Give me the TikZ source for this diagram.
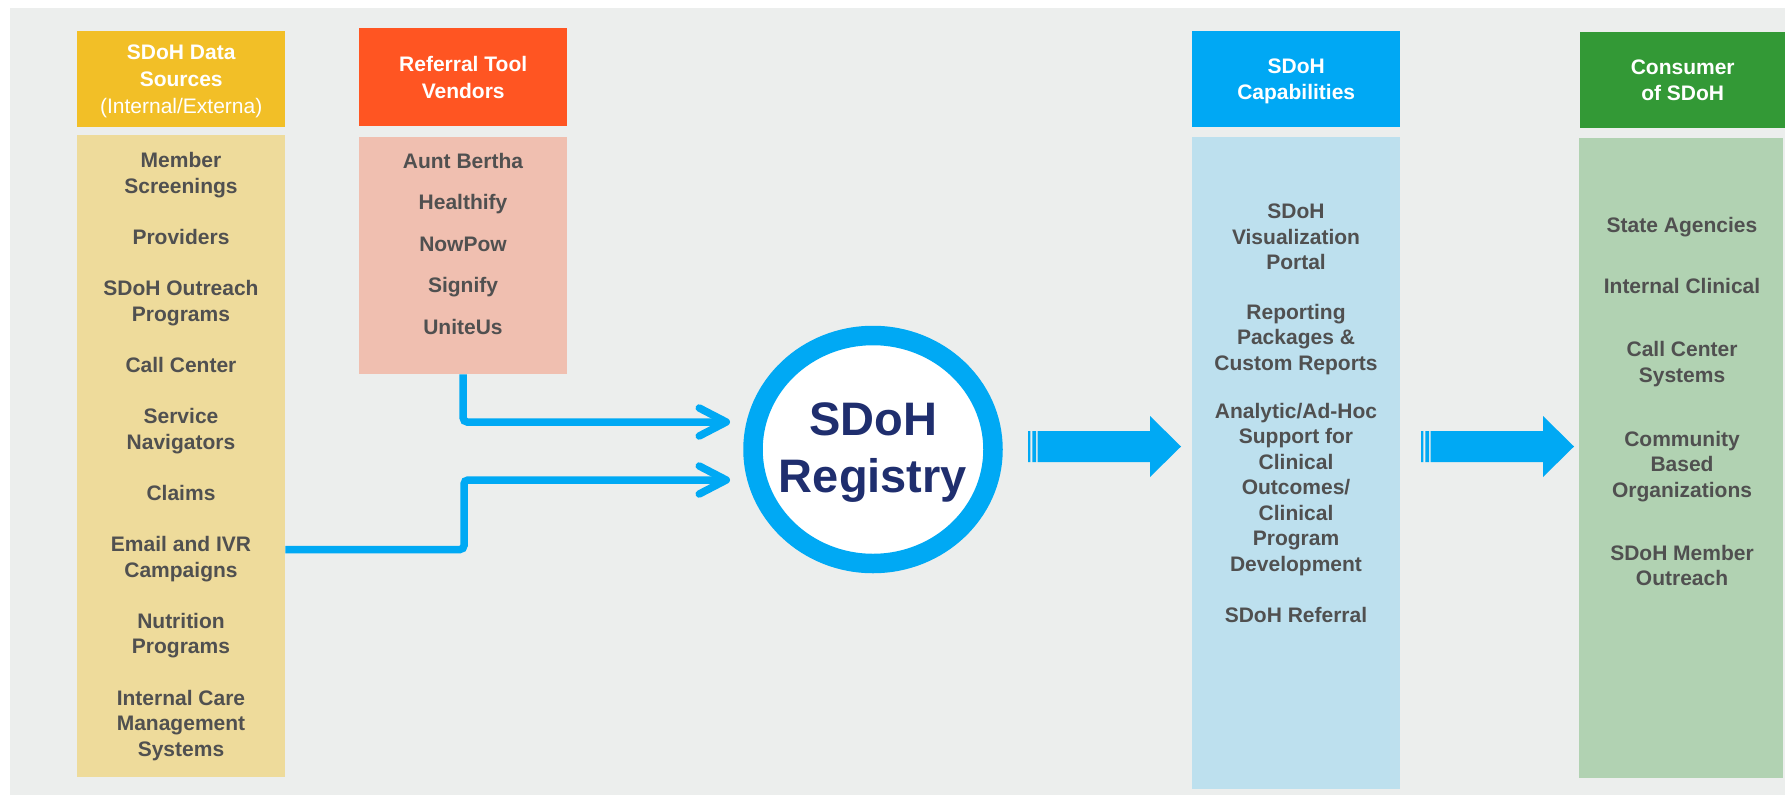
\documentclass[tikz,border=0pt]{standalone}
\usepackage{fontspec}
\setmainfont{Liberation Sans}
\usepackage{tikz}
\usetikzlibrary{positioning,calc,arrows.meta,shapes.geometric}
\definecolor{bggray}{RGB}{236,238,237}
\definecolor{srchd}{RGB}{242,191,39}
\definecolor{srcbd}{RGB}{238,219,155}
\definecolor{vendhd}{RGB}{255,85,34}
\definecolor{vendbd}{RGB}{240,191,176}
\definecolor{caphd}{RGB}{0,168,244}
\definecolor{capbd}{RGB}{189,224,238}
\definecolor{conhd}{RGB}{51,153,54}
\definecolor{conbd}{RGB}{177,210,178}
\definecolor{flowblue}{RGB}{0,169,244}
\definecolor{regnavy}{RGB}{31,46,110}
\definecolor{txtgray}{RGB}{80,80,80}

\begin{document}
\begin{tikzpicture}[
      x=1pt, y=-1pt,
      box/.style={anchor=north west, inner sep=0pt, minimum width=208pt},
      hdr/.style={box, minimum height=96pt, text=white, align=center, text depth=-1pt,
                  font=\fontsize{21}{26.8}\selectfont\bfseries},
      item/.style={anchor=north, inner sep=0pt, text=txtgray, align=center,
                   font=\fontsize{21}{25.6}\selectfont\bfseries},
      ring/.style={ellipse, draw=flowblue, line width=19.5pt, fill=white,
                   minimum width=240pt, minimum height=228pt, inner sep=0pt},
      regtxt/.style={inner sep=0pt, text=regnavy, align=center,
                     font=\fontsize{47}{57}\selectfont\bfseries},
      flow/.style={draw=flowblue, line width=7.5pt, rounded corners=4pt,
                   -{Straight Barb[length=27pt, width=28pt, round]}}
    ]
    % ---- page: 1785 x 795, one unit = one pixel of the reference ----
    \useasboundingbox (0,0) rectangle (1785,795);
    \fill[white] (0,0) rectangle (1785,795);
    \fill[bggray] (10,8) rectangle (1785,795);

    % ---- column heads ----
    \node[hdr, fill=srchd] (srchead) at (77,31) {SDoH Data\\Sources\\{\mdseries(Internal/Externa)}};
    \node[hdr, fill=vendhd, minimum height=98pt] (vendhead) at (359,28) {Referral Tool\\Vendors};
    \node[hdr, fill=caphd] (caphead) at (1192,31) {SDoH\\Capabilities};
    \node[hdr, fill=conhd, minimum width=205pt] (conhead) at (1580,32) {Consumer\\of SDoH};

    % ---- column bodies ----
    \node[box, fill=srcbd, minimum height=642pt] (srcbody) at (77,135) {};
    \node[box, fill=vendbd, minimum height=237pt] (vendbody) at (359,137) {};
    \node[box, fill=capbd, minimum height=652pt] (capbody) at (1192,137) {};
    \node[box, fill=conbd, minimum width=204pt, minimum height=640pt] (conbody) at (1579,138) {};

    % ---- lists ----
    \node[item] (srclist) at (181,152) {Member\\Screenings\\[25.6pt]Providers\\[25.6pt]SDoH Outreach\\Programs\\[25.6pt]Call Center\\[25.6pt]Service\\Navigators\\[25.6pt]Claims\\[25.6pt]Email and IVR\\Campaigns\\[25.6pt]Nutrition\\Programs\\[25.6pt]Internal Care\\Management\\Systems};
    \node[item] (vendlist) at (463,153) {Aunt Bertha\\[15.9pt]Healthify\\[15.9pt]NowPow\\[15.9pt]Signify\\[15.9pt]UniteUs};
    \node[item, font=\fontsize{21}{25.5}\selectfont\bfseries] (caplist) at (1296,204)
      {SDoH\\Visualization\\Portal\\[24pt]Reporting\\Packages \&\\Custom Reports\\[22.5pt]Analytic/Ad-Hoc\\Support for\\Clinical\\Outcomes/\\Clinical\\Program\\Development\\[25.5pt]SDoH Referral};
    \node[item] (conlist) at (1682,217) {State Agencies\\[35pt]Internal Clinical\\[38pt]Call Center\\Systems\\[38.5pt]Community\\Based\\Organizations\\[37pt]SDoH Member\\Outreach};

    % ---- registry ----
    \node[ring] (reg) at (873,449.5) {};
    \node[regtxt] (regname) at ([yshift=-3pt]reg.center) {SDoH\\Registry};

    % ---- feeds into the registry ----
    \coordinate (in1) at (730,422);
    \coordinate (in2) at (730,480);
    \draw[flow] (vendbody.south) |- (in1);
    \draw[flow] (srcbody.east |- 0,549.5) -| (464,480) -- (in2);

    % ---- striped block arrows ----
    \fill[flowblue] (1028,431) rectangle (1030.3,462) (1032.3,431) rectangle (1036,462);
    \fill[flowblue] (1037.7,431) -- (1150,431) -- (1150,416) -- (1181,446.5)
      -- (1150,477) -- (1150,462) -- (1037.7,462) -- cycle;
    \fill[flowblue] (1421,431) rectangle (1423.3,462) (1425.3,431) rectangle (1429,462);
    \fill[flowblue] (1430.7,431) -- (1543,431) -- (1543,416) -- (1574,446.5)
      -- (1543,477) -- (1543,462) -- (1430.7,462) -- cycle;
  \end{tikzpicture}
\end{document}
